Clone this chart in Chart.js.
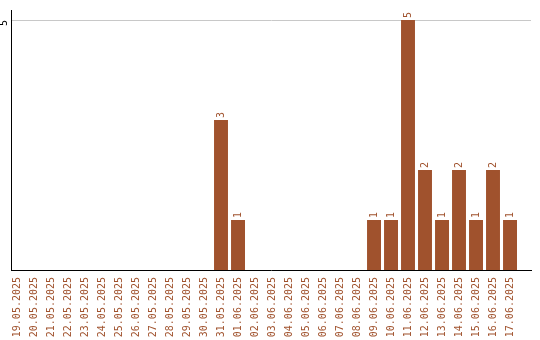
<!DOCTYPE html>
<html>
<head>
<meta charset="utf-8">
<script src="https://cdn.jsdelivr.net/npm/chart.js@4/dist/chart.umd.min.js"></script>
<style>
  html, body { margin: 0; padding: 0; background: #fff; }
  canvas { display: block; }
</style>
</head>
<body>
<canvas id="myChart" width="540" height="340"></canvas>
<script>
// dates shown on the x axis
const dates = [
  '19.05.2025', '20.05.2025', '21.05.2025', '22.05.2025', '23.05.2025',
  '24.05.2025', '25.05.2025', '26.05.2025', '27.05.2025', '28.05.2025',
  '29.05.2025', '30.05.2025', '31.05.2025', '01.06.2025', '02.06.2025',
  '03.06.2025', '04.06.2025', '05.06.2025', '06.06.2025', '07.06.2025',
  '08.06.2025', '09.06.2025', '10.06.2025', '11.06.2025', '12.06.2025',
  '13.06.2025', '14.06.2025', '15.06.2025', '16.06.2025', '17.06.2025'
];
// count per day
const counts = [
  0, 0, 0, 0, 0, 0, 0, 0, 0, 0,
  0, 0, 3, 1, 0, 0, 0, 0, 0, 0,
  0, 1, 1, 5, 2, 1, 2, 1, 2, 1
];
const yTicks = [5];

const barColor = '#A0522D';
const fontFamily = '"DejaVu Sans Mono", monospace';

// rotated text: value labels above bars and the y tick labels
const rotatedText = {
  id: 'rotatedText',
  afterDatasetsDraw(chart) {
    const ctx = chart.ctx;
    const meta = chart.getDatasetMeta(0);
    const yScale = chart.scales.y;
    ctx.save();
    ctx.font = '10px ' + fontFamily;
    ctx.textBaseline = 'middle';

    ctx.fillStyle = barColor;
    ctx.textAlign = 'left';
    meta.data.forEach((bar, i) => {
      const v = counts[i];
      if (!v) return;
      ctx.save();
      ctx.translate(bar.x, bar.y - 2);
      ctx.rotate(-Math.PI / 2);
      ctx.fillText(String(v), 0, 0);
      ctx.restore();
    });

    ctx.fillStyle = '#000';
    ctx.textAlign = 'right';
    yTicks.forEach(t => {
      ctx.save();
      ctx.translate(yScale.left + 4.5, yScale.getPixelForValue(t));
      ctx.rotate(-Math.PI / 2);
      ctx.fillText(String(t), 0, 0);
      ctx.restore();
    });
    ctx.restore();
  }
};

const ctx = document.getElementById('myChart').getContext('2d');
new Chart(ctx, {
  type: 'bar',
  data: {
    datasets: [{
      data: counts.map((v, i) => ({ x: i, y: v })),
      backgroundColor: barColor,
      borderWidth: 0,
      barPercentage: 0.82,
      categoryPercentage: 1
    }]
  },
  options: {
    responsive: false,
    animation: false,
    layout: { padding: { top: 10, right: 9, left: 0, bottom: 0 } },
    plugins: {
      legend: { display: false },
      tooltip: { enabled: false }
    },
    scales: {
      x: {
        type: 'linear',
        offset: false,
        min: -0.353,
        max: 30.235,
        afterBuildTicks: (scale) => {
          scale.ticks = dates.map((d, i) => ({ value: i }));
        },
        afterFit: (scale) => { scale.height = 70; },
        grid: { display: false, drawTicks: false },
        border: { display: true, color: '#000', width: 1 },
        ticks: {
          autoSkip: false,
          minRotation: 90,
          maxRotation: 90,
          padding: 7,
          color: barColor,
          font: { family: fontFamily, size: 10 },
          callback: (value) => dates[value]
        }
      },
      y: {
        min: 0,
        max: 5.2,
        afterBuildTicks: (scale) => {
          scale.ticks = yTicks.map(v => ({ value: v }));
        },
        afterFit: (scale) => { scale.width = 11; },
        grid: { color: '#c8c8c8', drawTicks: false },
        border: { display: true, color: '#000', width: 1 },
        ticks: { display: false }
      }
    }
  },
  plugins: [rotatedText]
});
</script>
</body>
</html>
